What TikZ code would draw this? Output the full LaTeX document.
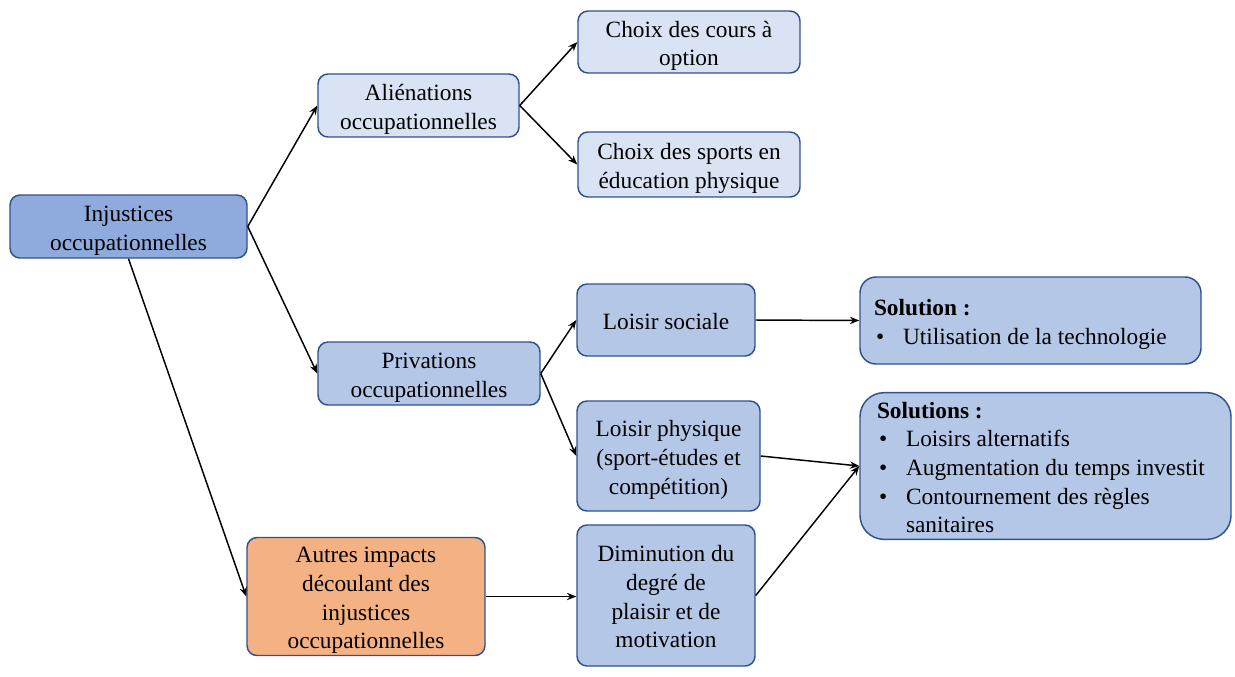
\documentclass[tikz,border=0pt]{standalone}
\usepackage{fontspec}
\setmainfont{Liberation Serif}
\usetikzlibrary{arrows.meta}
\definecolor{bord}{HTML}{2F528F}
\definecolor{dark}{HTML}{8FAADC}
\definecolor{mid}{HTML}{B4C7E7}
\definecolor{light}{HTML}{DAE3F3}
\definecolor{orng}{HTML}{F4B183}
\newcommand{\bul}{\makebox[21.75pt][l]{\hspace{1.5pt}•}}
\begin{document}
\begin{tikzpicture}[x=0.75pt,y=-0.75pt,
  box/.style={draw=bord, line width=1.1pt, rounded corners=7.5pt, align=flush center, inner sep=0pt,
    font=\fontsize{17.5}{21.5}\selectfont,
    execute at begin node={\rule{0pt}{19pt}},
    execute at end node={\rule[-5pt]{0pt}{5pt}}},
  bw/.style={text width=#1},
  arr/.style={-{Stealth[length=7pt,width=5.5pt]}, line width=1.1pt}]
\useasboundingbox (0,0) rectangle (1235,676);

\node[box, fill=dark, bw=177.75pt, minimum height=47.25pt] (inj) at (128.5,226.5) {Injustices\\occupationnelles};
\node[box, fill=light, bw=150.75pt, minimum height=47.25pt] (ali) at (418.5,105.5) {Aliénations\\occupationnelles};
\node[box, fill=light, bw=166.5pt, minimum height=46.5pt] (cours) at (689,42) {Choix des cours à\\option};
\node[box, fill=light, bw=166.5pt, minimum height=48.75pt] (sports) at (689,164.5) {Choix des sports en\\éducation physique};
\node[box, fill=mid, bw=166.5pt, minimum height=47.25pt] (priv) at (429,373.5) {Privations\\occupationnelles};
\node[box, fill=mid, bw=133.5pt, minimum height=54pt] (soc) at (666,320) {Loisir sociale};
\node[box, fill=mid, bw=137.25pt, minimum height=82.5pt] (phys) at (668.5,456) {Loisir physique\\(sport-études et\\compétition)};
\node[box, fill=orng, bw=178.5pt, minimum height=86.25pt] (autres) at (366,596.5) {Autres impacts\\découlant des\\injustices\\occupationnelles};
\node[box, fill=mid, bw=133.5pt, minimum height=105.75pt] (dimi) at (666,595.5) {Diminution du\\degré de\\plaisir et de\\motivation};
\node[box, fill=mid, align=flush left, inner xsep=10.5pt, bw=234.75pt, minimum height=65.25pt, rounded corners=12pt] (sol) at (1030.5,320.5)
  {\textbf{Solution :}\\\bul Utilisation de la technologie};
\node[box, fill=mid, align=flush left, inner xsep=12.75pt, bw=252.75pt, minimum height=109.5pt, rounded corners=18pt] (sols) at (1045.5,466)
  {\textbf{Solutions :}\\\bul Loisirs alternatifs\\\bul Augmentation du temps investit\\\bul Contournement des règles\\\hspace*{21.75pt}sanitaires};

\draw[arr] (inj.east) -- (ali.west);
\draw[arr] (inj.east) -- (priv.west);
\draw[arr] (inj.south) -- (autres.west);
\draw[arr] (ali.east) -- (cours.west);
\draw[arr] (ali.east) -- (sports.west);
\draw[arr] (priv.east) -- (soc.west);
\draw[arr] (priv.east) -- (phys.west);
\draw[arr] (soc.east) -- (sol.west);
\draw[arr] (phys.east) -- (sols.west);
\draw[arr] (autres.east) -- (autres.east -| dimi.west);
\draw[arr] (dimi.east) -- (sols.west);
\end{tikzpicture}
\end{document}
